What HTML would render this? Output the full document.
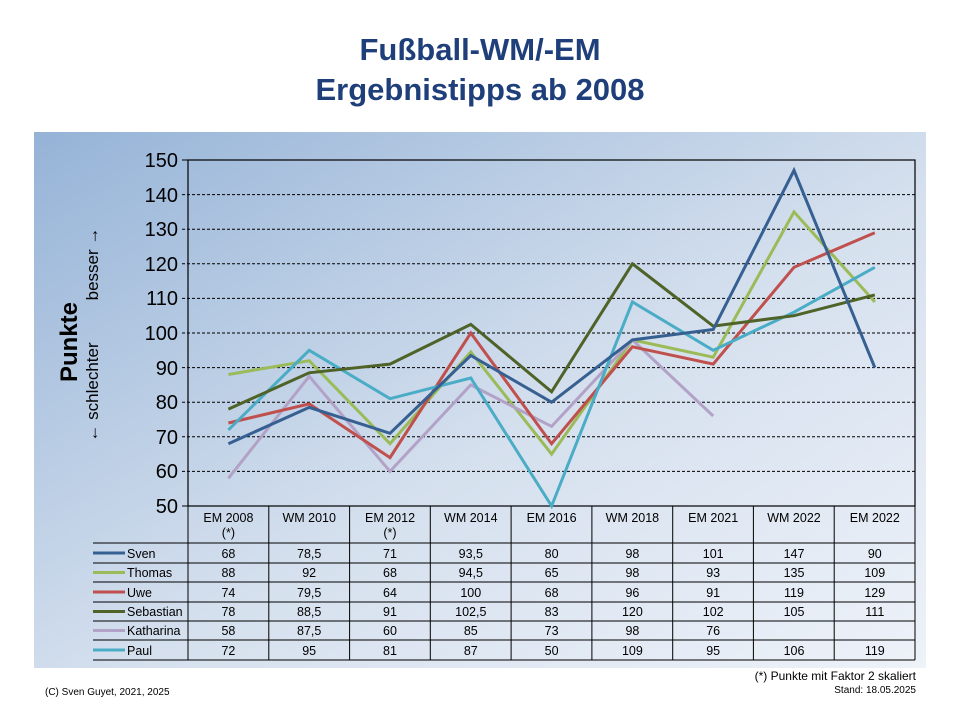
<!DOCTYPE html>
<html><head><meta charset="utf-8"><style>
body{margin:0;background:#fff;}
svg{display:block;font-family:"Liberation Sans",Arial,sans-serif;}
</style></head><body>
<svg width="960" height="720" viewBox="0 0 960 720" xmlns="http://www.w3.org/2000/svg">
<defs>
<linearGradient id="bg" x1="0" y1="0" x2="1" y2="1">
<stop offset="0" stop-color="#95B3D7"/>
<stop offset="0.55" stop-color="#D5E0EE"/>
<stop offset="1" stop-color="#EEF2F9"/>
</linearGradient>
</defs>
<text x="480" y="60" text-anchor="middle" font-size="31" font-weight="bold" fill="#1F3F7A">Fußball-WM/-EM</text>
<text x="480" y="100" text-anchor="middle" font-size="31" font-weight="bold" fill="#1F3F7A">Ergebnistipps ab 2008</text>
<rect x="34" y="132" width="892" height="536" fill="url(#bg)"/>
<g stroke="#000" stroke-width="1" stroke-dasharray="3,2">
<line x1="182" y1="194.6" x2="915" y2="194.6"/>
<line x1="182" y1="229.2" x2="915" y2="229.2"/>
<line x1="182" y1="263.8" x2="915" y2="263.8"/>
<line x1="182" y1="298.4" x2="915" y2="298.4"/>
<line x1="182" y1="333" x2="915" y2="333"/>
<line x1="182" y1="367.6" x2="915" y2="367.6"/>
<line x1="182" y1="402.2" x2="915" y2="402.2"/>
<line x1="182" y1="436.8" x2="915" y2="436.8"/>
<line x1="182" y1="471.4" x2="915" y2="471.4"/>
</g>
<rect x="188" y="160" width="727" height="346" fill="none" stroke="#000" stroke-width="1.2"/>
<line x1="182" y1="160" x2="188" y2="160" stroke="#000"/>
<line x1="182" y1="506" x2="188" y2="506" stroke="#000"/>
<g font-size="20" text-anchor="end" fill="#000">
<text x="178" y="167">150</text><text x="178" y="202">140</text><text x="178" y="236">130</text>
<text x="178" y="271">120</text><text x="178" y="305">110</text><text x="178" y="340">100</text>
<text x="178" y="375">90</text><text x="178" y="409">80</text><text x="178" y="444">70</text>
<text x="178" y="478">60</text><text x="178" y="513">50</text>
</g>
<text transform="translate(77,342) rotate(-90)" text-anchor="middle" font-size="24" font-weight="bold">Punkte</text>
<text transform="translate(98,264) rotate(-90)" text-anchor="middle" font-size="17">besser <tspan font-weight="bold">→</tspan></text>
<text transform="translate(98,392) rotate(-90)" text-anchor="middle" font-size="17"><tspan font-weight="bold">←</tspan> schlechter</text>
<g fill="none" stroke-width="3" stroke-linejoin="miter">
<polyline stroke="#9BBB59" points="228.4,374.5 309.2,360.7 390,443.7 470.8,352 551.6,454.1 632.4,339.9 713.2,357.2 794,211.9 874.8,301.9"/>
<polyline stroke="#B3A2C7" points="228.4,478.3 309.2,376.3 390,471.4 470.8,384.9 551.6,426.4 632.4,339.9 713.2,416"/>
<polyline stroke="#C0504D" points="228.4,423 309.2,403.9 390,457.6 470.8,333 551.6,443.7 632.4,346.8 713.2,364.1 794,267.3 874.8,232.7"/>
<polyline stroke="#4BACC6" points="228.4,429.9 309.2,350.3 390,398.7 470.8,378 551.6,506 632.4,301.9 713.2,350.3 794,312.2 874.8,267.3"/>
<polyline stroke="#4F6228" points="228.4,409.1 309.2,372.8 390,364.1 470.8,324.4 551.6,391.8 632.4,263.8 713.2,326.1 794,315.7 874.8,294.9"/>
<polyline stroke="#376092" points="228.4,443.7 309.2,407.4 390,433.3 470.8,355.5 551.6,402.2 632.4,339.9 713.2,329.5 794,170.4 874.8,367.6"/>
</g>
<g stroke="#000" stroke-width="1">
<line x1="93" y1="543" x2="915" y2="543"/>
<line x1="93" y1="563" x2="915" y2="563"/>
<line x1="93" y1="582" x2="915" y2="582"/>
<line x1="93" y1="602" x2="915" y2="602"/>
<line x1="93" y1="621" x2="915" y2="621"/>
<line x1="93" y1="640" x2="915" y2="640"/>
<line x1="93" y1="660" x2="915" y2="660"/>
<line x1="188" y1="506" x2="188" y2="660"/>
<line x1="268.8" y1="506" x2="268.8" y2="660"/>
<line x1="349.6" y1="506" x2="349.6" y2="660"/>
<line x1="430.3" y1="506" x2="430.3" y2="660"/>
<line x1="511.1" y1="506" x2="511.1" y2="660"/>
<line x1="591.9" y1="506" x2="591.9" y2="660"/>
<line x1="672.7" y1="506" x2="672.7" y2="660"/>
<line x1="753.4" y1="506" x2="753.4" y2="660"/>
<line x1="834.2" y1="506" x2="834.2" y2="660"/>
<line x1="915" y1="506" x2="915" y2="660"/>
</g>
<g stroke-width="3">
<line x1="93" y1="553" x2="125" y2="553" stroke="#376092"/>
<line x1="93" y1="572.5" x2="125" y2="572.5" stroke="#9BBB59"/>
<line x1="93" y1="592" x2="125" y2="592" stroke="#C0504D"/>
<line x1="93" y1="611.5" x2="125" y2="611.5" stroke="#4F6228"/>
<line x1="93" y1="630.5" x2="125" y2="630.5" stroke="#B3A2C7"/>
<line x1="93" y1="650" x2="125" y2="650" stroke="#4BACC6"/>
</g>
<g font-size="12.5" fill="#000">
<text x="127" y="558">Sven</text><text x="127" y="577">Thomas</text><text x="127" y="597">Uwe</text>
<text x="127" y="616">Sebastian</text><text x="127" y="635">Katharina</text><text x="127" y="655">Paul</text>
</g>
<g font-size="12.5" text-anchor="middle" fill="#000">
<text x="228.4" y="522">EM 2008</text><text x="228.4" y="537">(*)</text>
<text x="309.2" y="522">WM 2010</text>
<text x="390" y="522">EM 2012</text><text x="390" y="537">(*)</text>
<text x="470.8" y="522">WM 2014</text><text x="551.6" y="522">EM 2016</text>
<text x="632.4" y="522">WM 2018</text><text x="713.2" y="522">EM 2021</text>
<text x="794" y="522">WM 2022</text><text x="874.8" y="522">EM 2022</text>
</g>
<g font-size="12.5" text-anchor="middle" fill="#000">
<g transform="translate(0,558)"><text x="228.4">68</text><text x="309.2">78,5</text><text x="390">71</text><text x="470.8">93,5</text><text x="551.6">80</text><text x="632.4">98</text><text x="713.2">101</text><text x="794">147</text><text x="874.8">90</text></g>
<g transform="translate(0,577)"><text x="228.4">88</text><text x="309.2">92</text><text x="390">68</text><text x="470.8">94,5</text><text x="551.6">65</text><text x="632.4">98</text><text x="713.2">93</text><text x="794">135</text><text x="874.8">109</text></g>
<g transform="translate(0,597)"><text x="228.4">74</text><text x="309.2">79,5</text><text x="390">64</text><text x="470.8">100</text><text x="551.6">68</text><text x="632.4">96</text><text x="713.2">91</text><text x="794">119</text><text x="874.8">129</text></g>
<g transform="translate(0,616)"><text x="228.4">78</text><text x="309.2">88,5</text><text x="390">91</text><text x="470.8">102,5</text><text x="551.6">83</text><text x="632.4">120</text><text x="713.2">102</text><text x="794">105</text><text x="874.8">111</text></g>
<g transform="translate(0,635)"><text x="228.4">58</text><text x="309.2">87,5</text><text x="390">60</text><text x="470.8">85</text><text x="551.6">73</text><text x="632.4">98</text><text x="713.2">76</text></g>
<g transform="translate(0,655)"><text x="228.4">72</text><text x="309.2">95</text><text x="390">81</text><text x="470.8">87</text><text x="551.6">50</text><text x="632.4">109</text><text x="713.2">95</text><text x="794">106</text><text x="874.8">119</text></g>
</g>
<text x="916" y="680" text-anchor="end" font-size="12">(*) Punkte mit Faktor 2 skaliert</text>
<text x="916" y="693" text-anchor="end" font-size="10">Stand: 18.05.2025</text>
<text x="45" y="695" font-size="10">(C) Sven Guyet, 2021, 2025</text>
</svg>
</body></html>
